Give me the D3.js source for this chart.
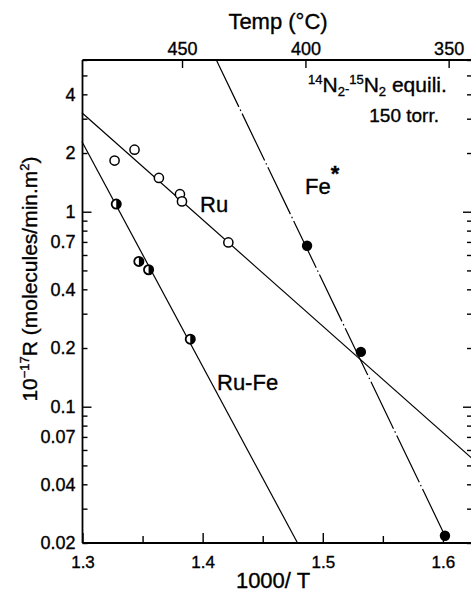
<!DOCTYPE html>
<html lang="en">
<head>
  <meta charset="UTF-8">
  <title>N2 equilibration rate vs 1000/T</title>
  <script src="https://d3js.org/d3.v7.min.js"></script>
  <style>
    body {
      margin: 0;
      background: #ffffff;
    }

    svg {
      font-family: "Liberation Sans", Arial, sans-serif;
      fill: #000;
    }

    svg text {
      stroke: #000;
      stroke-width: 0.35;
    }

    .axis path,
    .axis line {
      stroke: #000;
    }

    .axis path {
      stroke-width: 1.8;
    }

    .axis line {
      stroke-width: 1.4;
    }

    .axis text {
      fill: #000;
    }

    .fitline {
      fill: none;
      stroke: #000;
      stroke-width: 1.2;
    }
  </style>
</head>

<body>
  <script>
    // data
    const ruX = [1.3267, 1.3433, 1.3636, 1.3811, 1.3828, 1.4214];
    const ruY = [1.83, 2.08, 1.49, 1.23, 1.13, 0.696];
    const rufeX = [1.3281, 1.3469, 1.3550, 1.3897];
    const rufeY = [1.095, 0.556, 0.504, 0.222];
    const feX = [1.4869, 1.5317, 1.6017];
    const feY = [0.669, 0.191, 0.0218];

    // straight fit lines as drawn [x, R]
    const ruLine = [[1.2995, 3.22], [1.624, 0.0545]];
    const rufeLine = [[1.2995, 2.29], [1.479, 0.02]];
    const feLine = [[1.4114, 6.0], [1.6046, 0.02]];

    const xTicks = [1.3, 1.35, 1.4, 1.45, 1.5, 1.55, 1.6];
    const xLabels = [1.3, 1.4, 1.5, 1.6];
    const yTicks = [0.02, 0.03, 0.04, 0.05, 0.06, 0.07, 0.08, 0.09, 0.1,
      0.2, 0.3, 0.4, 0.5, 0.6, 0.7, 0.8, 0.9, 1, 2, 3, 4, 5, 6];
    const yLabels = [0.02, 0.04, 0.07, 0.1, 0.2, 0.4, 0.7, 1, 2, 4];
    const tempTicks = [450, 400, 350];

    const W = 471, H = 595;
    const plotL = 82.5, plotR = 472, plotT = 60, plotB = 543;

    const svg = d3.select("body").append("svg")
      .attr("width", W)
      .attr("height", H);

    const x = d3.scaleLinear().domain([1.3, 1.6242]).range([plotL, plotR]);
    const y = d3.scaleLog().domain([0.02, 6]).range([plotB, plotT]);
    const invT = t => 1000 / (t + 273.15);

    // bottom axis
    const xAxis = svg.append("g")
      .attr("class", "axis")
      .attr("transform", "translate(0," + plotB + ")")
      .call(d3.axisBottom(x).tickValues(xTicks).tickSizeOuter(0).tickSizeInner(-7).tickPadding(13)
        .tickFormat(d => xLabels.some(v => Math.abs(v - d) < 1e-9) ? d3.format(".1f")(d) : ""));
    xAxis.selectAll(".tick line").attr("y2", d => Math.round(d * 100) % 10 === 0 ? -10 : -7);
    xAxis.selectAll("text").style("font-size", "17px");
    xAxis.select(".domain").attr("d", "M" + plotL + ",0H" + W);

    // top axis (temperature)
    const tAxis = svg.append("g")
      .attr("class", "axis")
      .attr("transform", "translate(0," + plotT + ")")
      .call(d3.axisTop(x).tickValues(tempTicks.map(invT)).tickSizeOuter(0).tickSizeInner(-8).tickPadding(5)
        .tickFormat((d, i) => tempTicks[i]));
    tAxis.selectAll("text").style("font-size", "18px");
    tAxis.select(".domain").attr("d", "M" + plotL + ",0H" + W);

    // left axis
    const isMajor = d => Math.abs(Math.log10(d) - Math.round(Math.log10(d))) < 1e-9;
    const yFmt = d => yLabels.some(v => Math.abs(v - d) < 1e-9) ? String(d) : "";
    const yAxis = svg.append("g")
      .attr("class", "axis")
      .attr("transform", "translate(" + plotL + ",0)")
      .call(d3.axisLeft(y).tickValues(yTicks).tickSizeOuter(0).tickSizeInner(-5).tickPadding(7).tickFormat(yFmt));
    yAxis.selectAll(".tick line").attr("x2", d => isMajor(d) ? 9 : 5);
    yAxis.selectAll("text").style("font-size", "18px");
    yAxis.select(".domain").attr("d", "M0," + plotB + "V" + plotT);

    // right axis (ticks only)
    const rAxis = svg.append("g")
      .attr("class", "axis")
      .attr("transform", "translate(" + plotR + ",0)")
      .call(d3.axisRight(y).tickValues(yTicks).tickSizeOuter(0).tickSizeInner(-5).tickFormat(""));
    rAxis.selectAll(".tick line").attr("x2", d => isMajor(d) ? -9 : -5);

    // axis titles
    svg.append("text")
      .attr("x", 278)
      .attr("y", 29)
      .attr("text-anchor", "middle")
      .style("font-size", "22px")
      .text("Temp (°C)");

    svg.append("text")
      .attr("x", 273)
      .attr("y", 588)
      .attr("text-anchor", "middle")
      .style("font-size", "22px")
      .text("1000/ T");

    const yTitle = svg.append("text")
      .attr("transform", "translate(37,279) rotate(-90)")
      .attr("text-anchor", "middle")
      .style("font-size", "21px");
    yTitle.append("tspan").text("10");
    yTitle.append("tspan").attr("dy", -8).style("font-size", "13px").text("−17");
    yTitle.append("tspan").attr("dy", 8).text("R (molecules/min.m");
    yTitle.append("tspan").attr("dy", -8).style("font-size", "13px").text("2");
    yTitle.append("tspan").attr("dy", 8).text(")");

    // fit lines
    const line = d3.line().x(d => x(d[0])).y(d => y(d[1]));
    svg.append("path").datum(ruLine).attr("class", "fitline").attr("d", line);
    svg.append("path").datum(rufeLine).attr("class", "fitline").attr("stroke-width", 1.3).attr("d", line);
    svg.append("path").datum(feLine).attr("class", "fitline")
      .attr("stroke-dasharray", "52,3,1.5,3").attr("d", line);

    // Ru: open circles
    svg.selectAll(".ru")
      .data(ruX.map((v, i) => [v, ruY[i]]))
      .enter().append("circle")
      .attr("class", "ru")
      .attr("cx", d => x(d[0]))
      .attr("cy", d => y(d[1]))
      .attr("r", 4.6)
      .attr("fill", "#fff")
      .attr("stroke", "#000")
      .attr("stroke-width", 1.5);

    // Ru-Fe: half filled circles
    const rufe = svg.selectAll(".rufe")
      .data(rufeX.map((v, i) => [v, rufeY[i]]))
      .enter().append("g")
      .attr("class", "rufe")
      .attr("transform", d => "translate(" + x(d[0]) + "," + y(d[1]) + ")");
    rufe.append("circle")
      .attr("r", 4.6)
      .attr("fill", "#fff")
      .attr("stroke", "#000")
      .attr("stroke-width", 1.8);
    rufe.append("path")
      .attr("d", d3.arc()({innerRadius: 0, outerRadius: 4.6, startAngle: 0, endAngle: Math.PI}))
      .attr("fill", "#000");

    // Fe*: filled circles
    svg.selectAll(".fe")
      .data(feX.map((v, i) => [v, feY[i]]))
      .enter().append("circle")
      .attr("class", "fe")
      .attr("cx", d => x(d[0]))
      .attr("cy", d => y(d[1]))
      .attr("r", 5.2)
      .attr("fill", "#000");

    // series labels
    svg.append("text").attr("x", 200).attr("y", 212).style("font-size", "22px").text("Ru");
    svg.append("text").attr("x", 217).attr("y", 390).style("font-size", "22px").text("Ru-Fe");
    const feLabel = svg.append("text").attr("x", 305).attr("y", 194).style("font-size", "22px");
    feLabel.append("tspan").text("Fe");
    feLabel.append("tspan").attr("dy", -13).style("font-size", "22px").style("font-weight", "bold").text("*");

    // conditions
    const cond = svg.append("text").attr("x", 308).attr("y", 92).style("font-size", "21px");
    cond.append("tspan").attr("dy", -8).style("font-size", "13px").text("14");
    cond.append("tspan").attr("dy", 8).text("N");
    cond.append("tspan").attr("dy", 4).style("font-size", "13px").text("2");
    cond.append("tspan").attr("dy", -3).style("font-size", "13px").text("-");
    cond.append("tspan").attr("dy", -9).style("font-size", "13px").text("15");
    cond.append("tspan").attr("dy", 8).text("N");
    cond.append("tspan").attr("dy", 4).style("font-size", "13px").text("2");
    cond.append("tspan").attr("dy", -4).text(" equili.");

    svg.append("text")
      .attr("x", 439)
      .attr("y", 122)
      .attr("text-anchor", "end")
      .style("font-size", "19px")
      .text("150 torr.");
  </script>
</body>

</html>
